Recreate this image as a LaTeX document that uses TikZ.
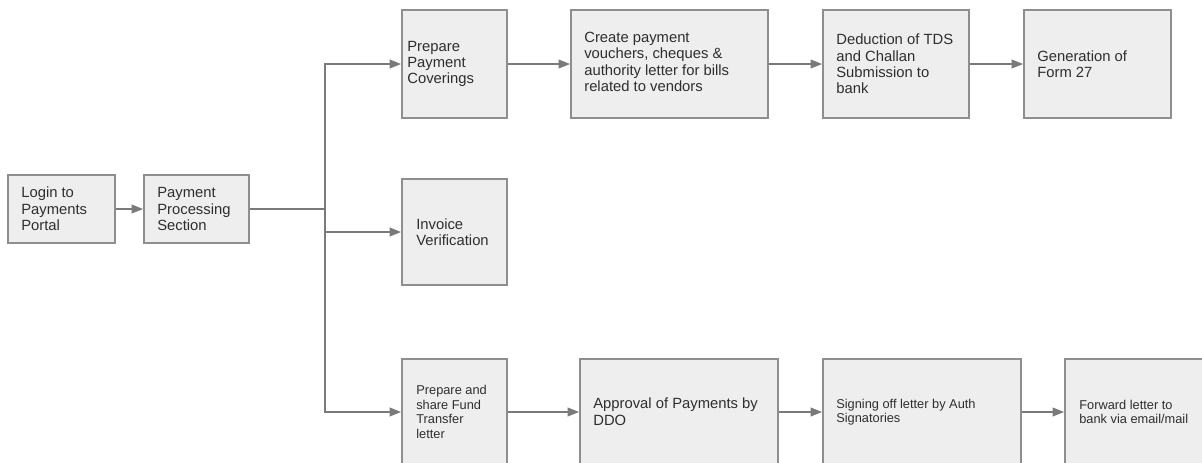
\documentclass[tikz,border=0pt]{standalone}
\usepackage{fontspec}
\setmainfont{Liberation Sans}
\usetikzlibrary{arrows.meta}
\definecolor{boxc}{HTML}{EEEEEE}
\definecolor{bordc}{HTML}{8E8E8E}
\definecolor{linec}{HTML}{7A7A7A}
\definecolor{txtc}{HTML}{2E2E2E}
\tikzset{
  box/.style={draw=bordc, fill=boxc, line width=1.4pt, inner sep=0pt, rectangle},
  rowtop/.style={box, minimum height=81pt},
  rowmid/.style={box, minimum height=79.5pt},
  txt/.style={anchor=west, inner sep=0pt, align=left, text=txtc, font=\fontsize{11.1}{12.3}\selectfont},
  txtbig/.style={txt, font=\fontsize{11.1}{12.9}\selectfont},
  txtsmall/.style={txt, font=\fontsize{9.6}{10.8}\selectfont},
  conn/.style={draw=linec, line width=1.1pt},
  arr/.style={conn, -{Triangle[length=8.5pt,width=6.5pt]}, color=linec}
}
\begin{document}
\begin{tikzpicture}[x=0.75pt,y=-0.75pt]
\clip (0,0) rectangle (1202,462);
\fill[white] (0,0) rectangle (1202,462);
% boxes
\node[box, minimum width=80.25pt, minimum height=51pt] (login) at (61.5,209) {};
\node[box, minimum width=78.75pt, minimum height=51pt] (pps) at (196.5,209) {};
\node[rowtop, minimum width=78.75pt] (prep) at (454.5,64) {};
\node[rowtop, minimum width=147.75pt] (create) at (669.5,64) {};
\node[rowtop, minimum width=109.5pt] (tds) at (896,64) {};
\node[rowtop, minimum width=110.25pt] (form) at (1097.5,64) {};
\node[rowmid, minimum width=78.75pt] (inv) at (454.5,232) {};
\node[rowmid, minimum width=78.75pt] (fund) at (454.5,412) {};
\node[rowmid, minimum width=148.5pt] (ddo) at (679,412) {};
\node[rowmid, minimum width=148.5pt] (sign) at (922,412) {};
\node[rowmid, minimum width=150pt] (fwd) at (1165,412) {};
% texts
\node[txt] (loginT) at ([xshift=10.5pt]login.west) {Login to\\Payments\\Portal};
\node[txt] (ppsT) at ([xshift=10.5pt]pps.west) {Payment\\Processing\\Section};
\node[txt] (prepT) at ([xshift=4.5pt]prep.west) {Prepare\\Payment\\Coverings};
\node[txt] (createT) at ([xshift=10.5pt,yshift=1.5pt]create.west) {Create payment\\vouchers, cheques \&\\authority letter for bills\\related to vendors};
\node[txt] (tdsT) at ([xshift=10.5pt]tds.west) {Deduction of TDS\\and Challan\\Submission to\\bank};
\node[txt] (formT) at ([xshift=10.5pt]form.west) {Generation of\\Form 27};
\node[txt] (invT) at ([xshift=11.25pt]inv.west) {Invoice\\Verification};
\node[txtsmall] (fundT) at ([xshift=11.25pt]fund.west) {Prepare and\\share Fund\\Transfer\\letter};
\node[txtbig] (ddoT) at ([xshift=10.5pt]ddo.west) {Approval of Payments by\\DDO};
\node[txtsmall] (signT) at ([xshift=10.5pt]sign.west) {Signing off letter by Auth\\Signatories};
\node[txtsmall] (fwdT) at ([xshift=11.25pt]fwd.west) {Forward letter to\\bank via email/mail};
% connectors
\coordinate (j) at (325,209);
\draw[arr] (login.east) -- (pps.west);
\draw[conn] (pps.east) -- (j);
\draw[arr] (j) |- (prep.west);
\draw[arr] (j) |- (inv.west);
\draw[arr] (j) |- (fund.west);
\draw[arr] (prep.east) -- (create.west);
\draw[arr] (create.east) -- (tds.west);
\draw[arr] (tds.east) -- (form.west);
\draw[arr] (fund.east) -- (ddo.west);
\draw[arr] (ddo.east) -- (sign.west);
\draw[arr] (sign.east) -- (fwd.west);
\end{tikzpicture}
\end{document}
